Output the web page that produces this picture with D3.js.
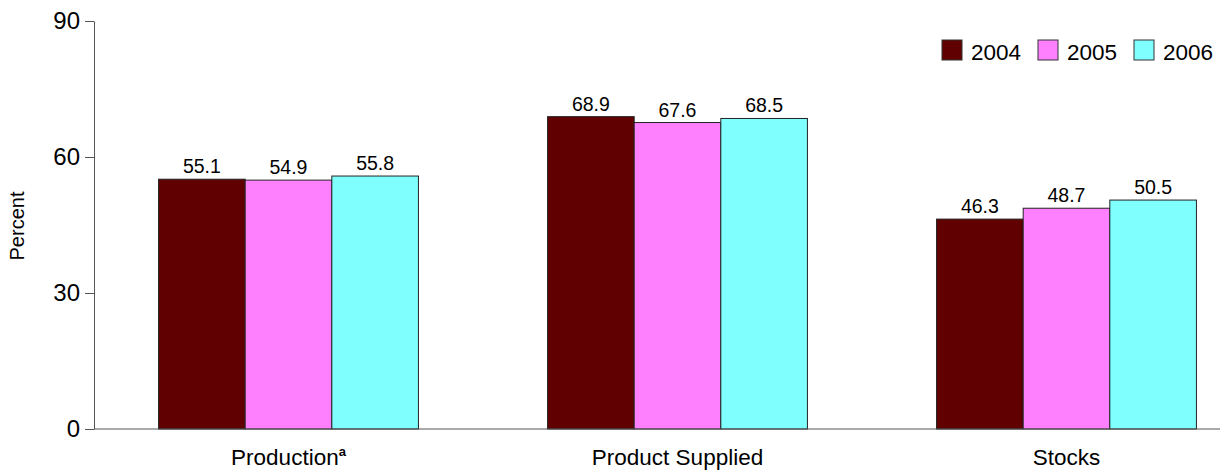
<!DOCTYPE html>
<html><head><meta charset="utf-8">
<script src="https://cdn.jsdelivr.net/npm/d3@7"></script>
<style>body{margin:0;background:#fff}svg{font-family:"Liberation Sans",Arial,sans-serif}</style>
</head><body>
<svg id="c" width="1220" height="470"></svg>
<script>
const categories = ["Production", "Product Supplied", "Stocks"];
const years = ["2004", "2005", "2006"];
const v2004 = [55.1, 68.9, 46.3];
const v2005 = [54.9, 67.6, 48.7];
const v2006 = [55.8, 68.5, 50.5];
const yTicks = [0, 30, 60, 90];
const colors = ["#600000", "#FF80FF", "#80FFFF"];
const series = [v2004, v2005, v2006];

const svg = d3.select("#c");
const y = d3.scaleLinear().domain([0, 90]).range([429, 21]);
const x0 = d3.scaleBand().domain(categories).range([94, 1261]).paddingInner(0.332).paddingOuter(0.166);
const x1 = d3.scaleBand().domain(years).range([0, x0.bandwidth()]);

// bars
categories.forEach((c, ci) => {
  years.forEach((yr, si) => {
    const v = series[si][ci];
    const bx = x0(c) + x1(yr);
    svg.append("rect").attr("x", bx).attr("y", y(v)).attr("width", x1.bandwidth()).attr("height", y(0) - y(v))
      .attr("fill", colors[si]).attr("stroke", "#222").attr("stroke-width", 1);
    svg.append("text").attr("x", bx + x1.bandwidth() / 2).attr("y", y(v) - 6).attr("text-anchor", "middle")
      .attr("font-size", 19.5).attr("fill", "#000").text(v.toFixed(1));
  });
});

// y axis
const yAxis = d3.axisLeft(y).tickValues(yTicks).tickSize(9).tickPadding(5).tickSizeOuter(0);
const ga = svg.append("g").attr("transform", "translate(94,0)").call(yAxis);
ga.select(".domain").attr("stroke", "#555");
ga.selectAll(".tick line").attr("stroke", "#555");
ga.selectAll(".tick text").attr("font-size", 24).attr("font-family", "Liberation Sans, Arial, sans-serif").attr("fill", "#000");

// x baseline
svg.append("line").attr("x1", 94).attr("x2", 1220).attr("y1", y(0)).attr("y2", y(0)).attr("stroke", "#555");

// category labels
categories.forEach((c, ci) => {
  const t = svg.append("text").attr("x", x0(c) + x0.bandwidth() / 2).attr("y", 465).attr("text-anchor", "middle")
    .attr("font-size", 22.5).attr("fill", "#000");
  t.append("tspan").text(c);
  if (ci === 0) t.append("tspan").attr("font-size", 13).attr("font-weight", "bold").attr("dy", -9).text("a");
});

// y title
svg.append("text").attr("transform", "translate(24,226) rotate(-90)").attr("text-anchor", "middle")
  .attr("font-size", 20).attr("fill", "#000").text("Percent");

// legend
const legX = [942, 1038, 1134];
years.forEach((yr, i) => {
  svg.append("rect").attr("x", legX[i]).attr("y", 40).attr("width", 20).attr("height", 20)
    .attr("fill", colors[i]).attr("stroke", "#333");
  svg.append("text").attr("x", legX[i] + 29).attr("y", 60).attr("font-size", 22.5).attr("fill", "#000").text(yr);
});
</script>
</body></html>
